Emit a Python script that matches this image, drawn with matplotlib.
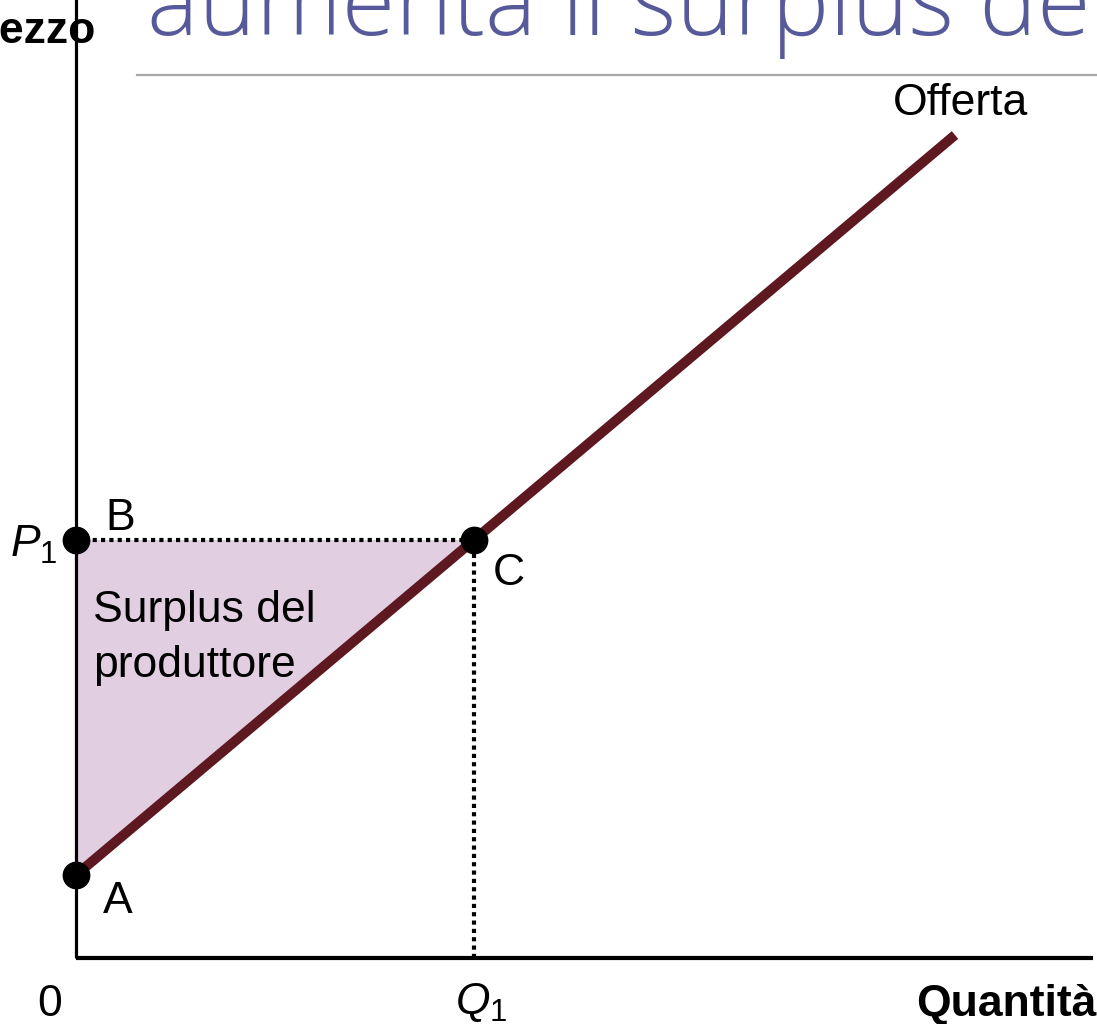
import matplotlib
matplotlib.use("Agg")
import matplotlib.pyplot as plt
import numpy as np

# ---- data (units: 1 = 100 px of the reference) ----
supply_q = [0.0, 3.98, 8.79]
supply_p = [0.83, 4.18, 8.23]
Q1 = 3.98
P1 = 4.18
A_point = (0.0, 0.83)
B_point = (0.0, 4.18)
C_point = (3.98, 4.18)
surplus_q = [0.0, 0.0, 3.98]
surplus_p = [0.83, 4.18, 4.18]

W, H = 1097, 1024
plt.rcParams['mathtext.fontset'] = 'custom'
plt.rcParams['mathtext.rm'] = 'Liberation Sans'
plt.rcParams['mathtext.it'] = 'Liberation Sans:italic'
plt.rcParams['font.family'] = ['Liberation Sans', 'DejaVu Sans']

fig = plt.figure(figsize=(W / 100, H / 100), dpi=100)
ax = fig.add_axes([0, 0, 1, 1])
ox, oy = 76, 958
ax.set_xlim(-ox / 100, (W - ox) / 100)
ax.set_ylim(-(H - oy) / 100, oy / 100)
ax.axis('off')


def fp(x, y):
    return x / W, 1 - y / H

FS = 32
# fill
ax.fill(surplus_q, surplus_p, color='#E1CFE1', zorder=1, lw=0)
# dotted lines
dot = (0, (1.0, 1.0))
ax.plot([0, Q1], [P1, P1], color='black', lw=3.0, ls=dot, zorder=2)
ax.plot([Q1, Q1], [0, P1], color='black', lw=3.0, ls=dot, zorder=2)
# axes
ax.plot([0, 0], [0, 9.7], color='black', lw=2.3, zorder=3, solid_capstyle='butt')
ax.plot([0, (1093 - ox) / 100], [0, 0], color='black', lw=3.0, zorder=3, solid_capstyle='butt')
# supply
ax.plot(supply_q, supply_p, color='#5E1820', lw=7.2, zorder=4, solid_capstyle='butt')
# points
pts = [A_point, B_point, C_point]
ax.plot([p[0] for p in pts], [p[1] for p in pts], 'o', color='black', ms=19, zorder=5)

# gray rule under title
fig.add_artist(plt.Line2D([137 / W, 1], [1 - 75 / H, 1 - 75 / H], color='#A8A8A8', lw=1.6))

# title fitted to width
title = fig.text(*fp(147, 35), 'aumenta il surplus de', color='#575A9A', fontsize=45,
                 family=['Open Sans', 'DejaVu Sans'], fontweight='light', va='baseline', ha='left')
r = fig.canvas.get_renderer()
bb = title.get_window_extent(r)
title.set_fontsize(45 * (1090 - 147) / bb.width)

fig.text(*fp(95, 43), 'Prezzo', fontsize=FS, fontweight='bold', ha='right', va='baseline')
fig.text(*fp(893, 115), 'Offerta', fontsize=FS, ha='left', va='baseline')
fig.text(*fp(105, 530), 'B', fontsize=FS, ha='left', va='baseline')
fig.text(*fp(10, 557), r'$P_{1}$', fontsize=FS, ha='left', va='baseline')
fig.text(*fp(493, 585), 'C', fontsize=FS, ha='left', va='baseline')
fig.text(*fp(103, 913), 'A', fontsize=FS, ha='left', va='baseline')
fig.text(*fp(37, 1016), '0', fontsize=FS, ha='left', va='baseline')
fig.text(*fp(455, 1014), r'$Q_{1}$', fontsize=FS, ha='left', va='baseline')
fig.text(*fp(1096, 1016), 'Quantità', fontsize=FS, fontweight='bold', ha='right', va='baseline')
fig.text(*fp(93, 622), 'Surplus del', fontsize=FS, ha='left', va='baseline')
fig.text(*fp(93, 677), 'produttore', fontsize=FS, ha='left', va='baseline')

fig.savefig('out.png', dpi=100)
